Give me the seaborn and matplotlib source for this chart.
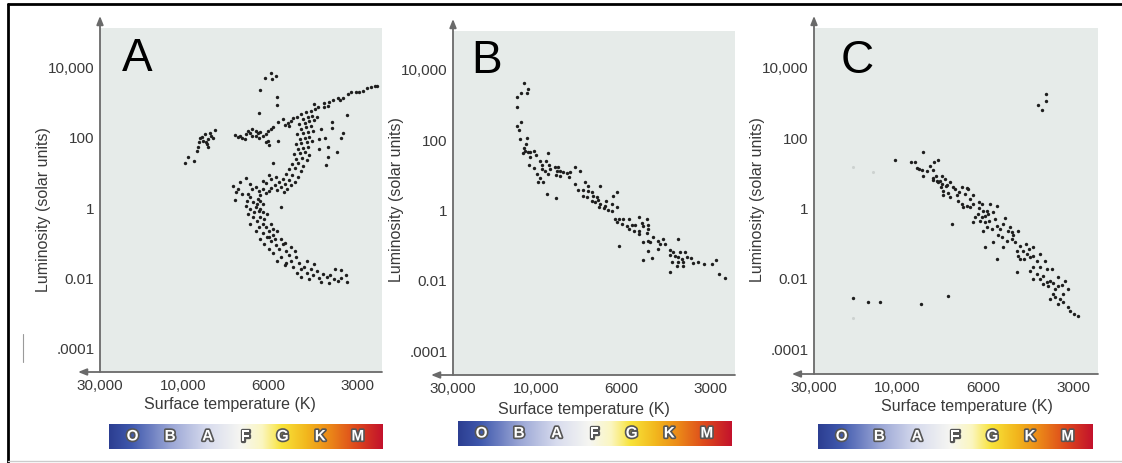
import numpy as np
import pandas as pd
import matplotlib
matplotlib.use("Agg")
import matplotlib.pyplot as plt
import matplotlib.patheffects as pe
from matplotlib.colors import LinearSegmentedColormap
from matplotlib.lines import Line2D
from matplotlib.ticker import NullLocator
import seaborn as sns

# ---- Panel A: cluster with giants, horizontal branch and main sequence ----
a_temp = [
    # supergiants
    5860, 6100, 5800, 5640, 6270, 5600, 5600, 6330,
    # asymptotic giant line
    3640, 3500, 3440, 3370, 3230, 3170, 3050, 2970, 2880, 2790, 2700, 2620, 2590,
    # scattered red giants
    4210, 4080, 3900, 3780, 3900, 3750, 3260, 3650, 3650, 3370, 3400, 3510, 3780, 3870, 3840, 3780,
    # blue clump
    8240, 8490, 8750, 8910, 8340, 8590, 8850, 9080, 8650, 9130, 9190, 8590, 9700, 9880, 9350, 8440, 9030, 8700,
    # horizontal branch
    7290, 7170, 6990, 7080, 6860, 6740, 6580, 6450, 6380, 6270, 6160, 6080, 6000, 5860, 5780,
    6580, 6450, 6340, 6000, 5950, 6080, 6900, 6660,
    5560, 5340, 5140, 5030, 4950, 5100, 5260, 5780, 5560,
    # red giant branch
    4650, 4480, 4310, 4180, 4580, 4410, 4280, 4720, 4520, 4360,
    4210, 4650, 4480, 4310, 4790, 4580, 4410, 4250, 4690, 4520,
    4360, 4830, 4650, 4450, 4280, 4760, 4580, 4410, 4910, 4690,
    4520, 4360, 4830, 4610, 4450, 4990, 4760, 4580, 5100, 4870,
    4650, 5220, 4990, 4760, 5340, 5100, 4870, 5510, 5260, 5030,
    5680, 5430, 5180, 5860, 5600, 5300, 4050, 3990, 4120, 4790, 4050,
    # main sequence
    7380, 7290, 7170, 6860, 6990, 6790, 7080, 7250, 6660, 6580,
    6740, 6450, 6340, 6660, 6540, 6860, 6380, 6270, 6190, 6080,
    5950, 6450, 6660, 6340, 6190, 6740, 6540, 6270, 6420, 6160,
    6660, 6340, 6080, 6450, 6190, 5950, 6270, 6040, 5860, 6120,
    5780, 5640, 5950, 5510, 5780, 5340, 5220, 5430, 5100, 5600,
    5030, 5260, 4830, 4950, 4720, 4650, 4790, 4550, 4450, 4310,
    4650, 4380, 4250, 4120, 4050, 3930, 3810, 3990, 3700, 3590,
    3500, 3400, 3290, 3420, 3560, 3260, 3750, 4210, 4450, 5430, 5220,
    6420, 6270, 6160, 6500, 6040, 6300, 6120, 5860, 5780, 5600,
    5950, 5680, 5430, 5260, 5030, 4870, 6080, 5860, 5640, 6190, 5950,
]
a_lum = [
    6700, 4900, 4500, 5500, 2200, 1400, 820, 490,
    1150, 1300, 1150, 1300, 1700, 1900, 1900, 1900, 2050, 2500, 2700, 2900, 2900,
    870, 720, 940, 770, 720, 1000, 430, 270, 180, 130, 93, 37, 52, 93, 16, 27,
    160, 130, 120, 100, 93, 88, 77, 72, 63, 52, 40, 52, 27, 18, 21, 107, 93, 72,
    114, 100, 93, 107, 120, 150, 170, 150, 130, 140, 107, 120, 150, 170, 190,
    107, 107, 93, 77, 59, 72, 88, 130,
    270, 330, 250, 290, 350, 205, 220, 18, 77,
    455, 520, 550, 630, 330, 370, 400, 235, 250, 290,
    310, 170, 190, 205, 120, 130, 140, 150, 88, 93,
    100, 63, 67, 72, 77, 46, 49, 52, 33, 35,
    37, 31, 24, 25, 22, 17, 18, 15, 12, 13,
    11, 8.8, 8.2, 7.2, 6.3, 5.9, 5.2, 5.2, 4.5, 4.3,
    4.3, 3.7, 3.3, 3.5, 3.1, 2.7, 46, 170, 370, 370, 88,
    4.0, 1.6, 3.3, 6.7, 2.4, 1.5, 5.2, 2.7, 4.5, 3.3,
    2.4, 3.7, 2.9, 1.9, 1.4, 1.07, 1.7, 2.2, 3.3, 2.5,
    2.9, 1.0, 0.88, 0.77, 1.2, 0.63, 0.52, 0.52, 0.40, 0.33,
    0.33, 0.27, 0.27, 0.21, 0.18, 0.21, 0.12, 0.14, 0.107, 0.088,
    0.16, 0.082, 0.063, 0.063, 0.049, 0.088, 0.055, 0.037, 0.043, 0.029,
    0.029, 0.022, 0.037, 0.019, 0.025, 0.017, 0.013, 0.019, 0.013, 0.017,
    0.010, 0.0088, 0.0114, 0.015, 0.0094, 0.012, 0.010, 0.0072, 0.0114, 0.0088,
    0.0077, 0.0094, 0.0114, 0.016, 0.017, 0.0072, 0.0067, 0.024, 0.029, 1.0, 0.025,
    1.2, 0.88, 0.72, 0.72, 0.63, 1.5, 0.46, 0.33, 0.24, 0.21,
    0.14, 0.12, 0.12, 0.093, 0.072, 0.055, 4.8, 6.3, 7.0, 5.6, 8.2,
]

# ---- Panel B: main sequence with blue turn-off ----
b_temp = [
    11720, 11110, 12200, 11260, 12850, 12850, 12200, 12850, 12520, 12360,
    11260, 11410, 11720, 11570, 11880, 11110, 10820, 10260, 10820, 10000,
    9300, 9770, 9420, 10970, 9640, 9250, 10260, 9640, 9480, 9190,
    8920, 8750, 8810, 8650, 8500, 8300, 8150, 7910, 7680, 9300,
    8860, 8650, 8200, 9940, 9770, 9880, 9590, 9360, 8860, 7910,
    7450, 7320, 6810, 7770, 7540, 7320, 7140, 7540, 7360, 7100,
    6930, 7140, 6890, 7020, 6810, 6570, 6610, 6850, 6490, 6650,
    6300, 6150, 6340, 6150, 6340,
    6220, 6070, 5910, 5640, 6150, 5950, 5720, 5510, 5380, 5640,
    5420, 5210, 5210, 4900, 5090, 5060, 4860, 4860, 5210, 4900,
    4680, 5060, 4860, 4790, 4500, 4330, 4260, 4430, 3850, 4500,
    4090, 4000, 3790, 3650, 4860, 4710, 5060, 4090, 3940, 3850,
    3730, 3590, 3480, 4030, 3850, 3700, 3430, 3320, 3880, 3700,
    3150, 2980, 2870, 4090, 6070, 2820, 2690,
]
b_lum = [
    4000, 2700, 2100, 2100, 1600, 830, 310, 240, 183, 102,
    107, 72, 56, 46, 41, 43, 43, 46, 31, 36,
    41, 24, 24, 18, 18, 18, 15, 14, 12.4, 14,
    16, 16, 12.4, 12.4, 11.6, 11, 11.6, 16, 12.4, 10.3,
    9.6, 9.0, 8.4, 10.3, 7.8, 6.0, 6.0, 2.8, 2.1, 5.3,
    6.0, 4.6, 4.6, 3.6, 3.6, 3.3, 3.1, 2.4, 2.3, 2.4,
    2.3, 1.74, 1.85, 1.63, 1.42, 1.74, 1.25, 1.17, 0.96, 1.09,
    2.4, 3.1, 1.42, 1.17, 0.90,
    0.53, 0.53, 0.53, 0.53, 0.44, 0.38, 0.34, 0.36, 0.36, 0.28,
    0.24, 0.24, 0.60, 0.53, 0.41, 0.34, 0.36, 0.28, 0.20, 0.21,
    0.16, 0.118, 0.126, 0.118, 0.126, 0.144, 0.103, 0.103, 0.144, 0.074,
    0.069, 0.061, 0.061, 0.061, 0.065, 0.041, 0.036, 0.050, 0.047, 0.044,
    0.039, 0.044, 0.041, 0.032, 0.032, 0.032, 0.030, 0.032, 0.024, 0.024,
    0.028, 0.028, 0.036, 0.017, 0.091, 0.0145, 0.0112,
]

# ---- Panel C: main sequence, a few giants and white dwarfs ----
c_temp = [
    3700, 3700, 3930, 3810,
    10400, 8600, 9250, 9030, 7860, 8060, 8920, 8810, 8660, 8250,
    8110, 8600, 7960, 7680, 8110, 7910, 7770, 7860, 7720, 7490,
    7180, 6810, 6610, 8110, 7680, 7450, 7100, 6930, 6570, 7630,
    7410, 7630, 7020, 6370, 6970, 6810, 6610, 6770, 6490, 6370,
    6150, 6040, 6150, 6000, 5820, 6180, 6300, 6040, 5910, 5770,
    5560, 5390, 7230, 6370, 6110, 5910, 5730, 6000, 5820, 5600,
    5390, 5260, 5070, 4950, 4800, 5350, 5190, 4990, 4800, 4690,
    5560, 5910, 5140, 4580, 4510, 4410, 4620, 4270, 4180, 4080,
    4510, 4080, 4370, 3960, 3870, 4080, 4180, 3960, 3670, 3780,
    3580, 3780, 3640, 3500, 3390, 3270, 3140, 3240, 3500, 3580,
    3450, 3320, 3370, 3240, 3140, 3070, 3000, 2890, 5390, 4620,
    4080, 4580, 3670, 3450, 8380, 7540, 7320, 5680, 5470, 5140,
    4870, 4760, 4320, 4220, 3870, 3740, 3530, 3370, 3190, 3870,
    6490, 6690, 7320,
    18010, 14800, 12650, 8710, 7410,
]
c_lum = [
    1700, 1070, 830, 590,
    22, 38, 19.5, 19.5, 22, 19.5, 13.2, 12.4, 11.6, 15,
    11.6, 7.8, 7.8, 7.8, 6.9, 5.6, 5.6, 5.3, 3.8, 4.1,
    3.8, 3.8, 3.6, 6.0, 4.6, 4.4, 3.3, 2.7, 3.3, 2.9,
    2.6, 2.3, 2.3, 2.3, 1.5, 1.25, 1.1, 1.02, 1.02, 1.25,
    1.42, 1.25, 0.96, 0.79, 0.79, 0.65, 0.53, 0.53, 0.56, 0.65,
    0.74, 1.1, 0.34, 0.38, 0.41, 0.38, 0.41, 0.21, 0.28, 0.24,
    0.30, 0.24, 0.50, 0.21, 0.20, 0.17, 0.144, 0.11, 0.126, 0.103,
    0.103, 0.074, 0.074, 0.21, 0.079, 0.058, 0.058, 0.047, 0.039, 0.042,
    0.034, 0.074, 0.034, 0.030, 0.020, 0.020, 0.0155, 0.0126, 0.018, 0.0112,
    0.0079, 0.0066, 0.0058, 0.0071, 0.0058, 0.0062, 0.0048, 0.0034, 0.0034, 0.0025,
    0.0028, 0.0025, 0.0018, 0.0020, 0.00145, 0.00112, 0.00091, 0.00081, 0.034, 0.0145,
    0.0091, 0.042, 0.0074, 0.0048, 10.8, 6.4, 5.3, 1.25, 0.47, 0.34,
    0.28, 0.16, 0.09, 0.066, 0.047, 0.030, 0.018, 0.0105, 0.0079, 0.0091,
    1.7, 2.5, 2.0,
    0.0026, 0.0020, 0.0020, 0.0018, 0.0030,
]
# barely visible smudges in panel C
c_faint_temp = [18010, 18010, 13870]
c_faint_lum = [0.00071, 14, 10.2]

temp_ticks = [30000, 10000, 6000, 3000]
temp_labels = ["30,000", "10,000", "6000", "3000"]
lum_ticks = [1e-4, 1e-2, 1, 1e2, 1e4]
lum_labels = [".0001", "0.01", "1", "100", "10,000"]
spectral = ["O", "B", "A", "F", "G", "K", "M"]

sns.set_style("white")
plt.rcParams["font.family"] = ["Liberation Sans", "DejaVu Sans"]

W, H = 1122, 464
fig = plt.figure(figsize=(W / 100, H / 100), dpi=100)


def rect(x0, y0, x1, y1):
    # pixel box (top-left origin) -> figure fraction
    return [x0 / W, 1 - y1 / H, (x1 - x0) / W, (y1 - y0) / H]


# the temperature axis is spaced by spectral type, not by log T
knot_t = np.array([2000, 3000, 6000, 10000, 30000])
knot_p = np.array([0, 53, 143, 228, 311])


def t_fwd(t):
    t = np.clip(np.asarray(t, dtype=float), 1, None)
    return np.interp(np.log10(t), np.log10(knot_t), knot_p)


def t_inv(p):
    return 10 ** np.interp(np.asarray(p, dtype=float), knot_p, np.log10(knot_t))


bar_cmap = LinearSegmentedColormap.from_list("spec", [
    (0.0, "#2c3e91"), (0.08, "#3f58ad"), (0.22, "#98a4d4"), (0.36, "#d8dcee"),
    (0.48, "#f6f6f2"), (0.56, "#fbf6c0"), (0.63, "#f8e33a"), (0.72, "#f2b81e"),
    (0.80, "#ec8c18"), (0.90, "#de4a1c"), (1.0, "#c3122c")])

panels = [
    dict(name="A", temp=a_temp, lum=a_lum, box=(100, 29, 382, 373), ylim=(-4.71, 5.11),
         bar=(109, 425, 383, 450), letter=(0.078, 0.878), xlab=(0.461, -0.093), ylab=(-0.202, 0.474)),
    dict(name="B", temp=b_temp, lum=b_lum, box=(453, 32, 735, 376), ylim=(-4.71, 5.08),
         bar=(458, 422, 732, 447), letter=(0.064, 0.881), xlab=(0.465, -0.096), ylab=(-0.199, 0.512)),
    dict(name="C", temp=c_temp, lum=c_lum, box=(814, 29, 1098, 375), ylim=(-4.74, 5.11),
         bar=(818, 425, 1093, 450), letter=(0.095, 0.873), xlab=(0.539, -0.090), ylab=(-0.200, 0.506)),
]

ink = "#3a3a3a"
for p in panels:
    ax = fig.add_axes(rect(*p["box"]))
    ax.set_facecolor("#e6ebe9")
    df = pd.DataFrame({"temp": p["temp"], "lum": p["lum"]})
    sns.scatterplot(data=df, x="temp", y="lum", ax=ax, s=6, color="#1e1e1e",
                    linewidth=0, legend=False)
    if p["name"] == "C":
        faint = pd.DataFrame({"temp": c_faint_temp, "lum": c_faint_lum})
        sns.scatterplot(data=faint, x="temp", y="lum", ax=ax, s=5, color="#cdd2d0",
                        linewidth=0, legend=False)

    ax.set_xscale("function", functions=(t_fwd, t_inv))
    ax.set_xlim(30000, 2490)
    ax.set_yscale("log")
    ax.set_ylim(10 ** p["ylim"][0], 10 ** p["ylim"][1])
    ax.set_xticks(temp_ticks, temp_labels)
    ax.set_yticks(lum_ticks, lum_labels)
    ax.xaxis.set_minor_locator(NullLocator())
    ax.yaxis.set_minor_locator(NullLocator())
    ax.tick_params(direction="in", length=7, width=1.2, color="#7a7a7a",
                   labelsize=11, labelcolor=ink, pad=4)
    for s in ax.spines.values():
        s.set_visible(False)

    ax.set_xlabel("Surface temperature (K)", fontsize=11.5, color=ink, va="center")
    ax.xaxis.set_label_coords(*p["xlab"])
    ax.set_ylabel("Luminosity (solar units)", fontsize=11.5, color=ink, va="center")
    ax.yaxis.set_label_coords(*p["ylab"])

    # axis lines with arrow heads
    arrow = dict(arrowstyle="-|>,head_length=0.5,head_width=0.2", color="#6a6a6a",
                 lw=1.3, shrinkA=0, shrinkB=0)
    ax.annotate("", xy=(0, 1.035), xytext=(0, 0), xycoords="axes fraction",
                textcoords="axes fraction", arrowprops=arrow)
    ax.annotate("", xy=(-0.078, 0), xytext=(1, 0), xycoords="axes fraction",
                textcoords="axes fraction", arrowprops=arrow)

    ax.text(p["letter"][0], p["letter"][1], p["name"], transform=ax.transAxes,
            fontsize=33, ha="left", va="baseline", color="black")

    # spectral class colour strip
    bax = fig.add_axes(rect(*p["bar"]))
    bax.imshow(np.linspace(0, 1, 256)[None, :], cmap=bar_cmap, aspect="auto",
               extent=(0, 1, 0, 1))
    bax.set_axis_off()
    for i, cls in enumerate(spectral):
        bax.text(0.086 + i * 0.137, 0.5, cls, transform=bax.transAxes, ha="center",
                 va="center", fontsize=11, fontweight="bold", color="white",
                 path_effects=[pe.withStroke(linewidth=2.4, foreground="#555555")])

# frame of the original figure
fig.add_artist(Line2D([8 / W, 8 / W], [0, 1 - 5 / H], transform=fig.transFigure,
                      color="black", lw=2))
fig.add_artist(Line2D([8 / W, 1], [1 - 5 / H, 1 - 5 / H], transform=fig.transFigure,
                      color="black", lw=2))
fig.add_artist(Line2D([8 / W, 1], [1 - 462 / H, 1 - 462 / H], transform=fig.transFigure,
                      color="#cccccc", lw=1))
fig.add_artist(Line2D([23 / W, 23 / W], [1 - 363 / H, 1 - 335 / H], transform=fig.transFigure,
                      color="#9a9a9a", lw=0.8))

fig.savefig("out.png", dpi=100, facecolor="white")
